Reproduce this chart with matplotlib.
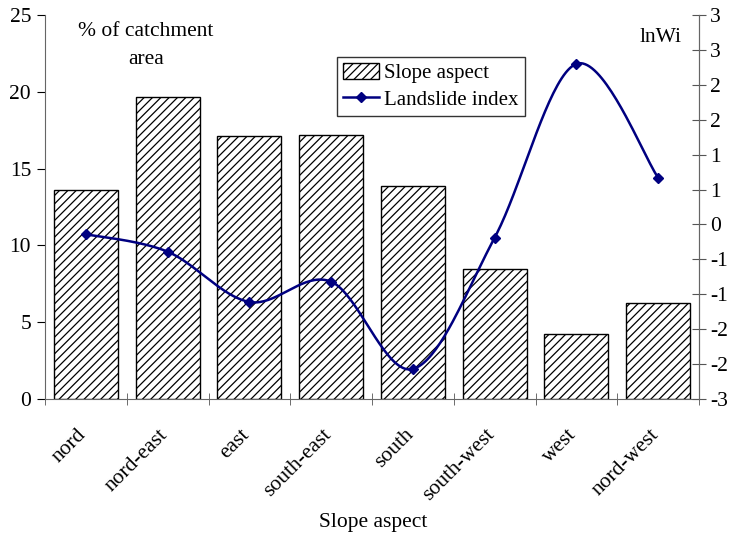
import numpy as np
import matplotlib
matplotlib.use("Agg")
import matplotlib.pyplot as plt
import matplotlib.transforms as mtransforms
from matplotlib.ticker import FixedLocator, FuncFormatter
from matplotlib.lines import Line2D
from matplotlib.patches import Patch

categories = ["nord", "nord-east", "east", "south-east", "south", "south-west", "west", "nord-west"]
area_pct = [13.6, 19.65, 17.1, 17.2, 13.85, 8.45, 4.25, 6.25]
lnwi = [-0.14, -0.39, -1.11, -0.82, -2.07, -0.19, 2.30, 0.67]

plt.rcParams['font.family'] = ['Liberation Serif', 'DejaVu Serif']
plt.rcParams['hatch.color'] = '#888888'
plt.rcParams['hatch.linewidth'] = 0.9

FS = 15.5

fig = plt.figure(figsize=(7.3, 5.4), dpi=100)
ax = fig.add_axes([45/730, 1-399/540, (699-45)/730, (399-15)/540])
x = np.arange(len(categories))
ax.bar(x, area_pct, width=0.78, color='white', edgecolor='black', linewidth=1.0,
       hatch='////', label='Slope aspect', zorder=2)
ax.set_xlim(-0.5, len(categories)-0.5)
ax.set_ylim(0, 25)
ax.set_yticks(np.arange(0, 26, 5))
ax.tick_params(axis='y', direction='out', length=6, labelsize=FS, colors='black', pad=4)
ax.set_xticks(x)
ax.set_xticklabels(categories, rotation=45, ha='right', va='top', rotation_mode='anchor', fontsize=FS)
ax.tick_params(axis='x', length=0, pad=19)
offset = mtransforms.ScaledTranslation(-9/100, 0, fig.dpi_scale_trans)
for lab in ax.get_xticklabels():
    lab.set_transform(lab.get_transform() + offset)
ax.xaxis.set_minor_locator(FixedLocator(np.arange(-0.5, len(categories), 1.0)))
ax.tick_params(axis='x', which='minor', direction='inout', length=9, color='#555555')
ax.spines['top'].set_visible(False)
for s in ['left', 'bottom', 'right']:
    ax.spines[s].set_color('#666666')

ax2 = ax.twinx()
ax2.set_ylim(-2.5, 3.0)
ax2.set_yticks(np.arange(-2.5, 3.01, 0.5))
def fmt(v, pos):
    r = int(np.sign(v) * np.floor(abs(v) + 0.5 + 1e-9))
    return f"{r}"
ax2.yaxis.set_major_formatter(FuncFormatter(fmt))
ax2.tick_params(axis='y', direction='inout', length=10, labelsize=FS, color='#555555', pad=3)
ax2.spines['top'].set_visible(False)
ax2.spines['right'].set_color('#666666')
ax2.spines['left'].set_visible(False)
ax2.spines['bottom'].set_visible(False)

# smoothed line (cardinal spline through the data points)
xs = np.array(x, dtype=float)
ys = np.array(lnwi, dtype=float)
px = np.concatenate([[xs[0]], xs, [xs[-1]]])
py = np.concatenate([[ys[0]], ys, [ys[-1]]])
sx, sy = [], []
for i in range(1, len(px)-2):
    p0 = np.array([px[i-1], py[i-1]]); p1 = np.array([px[i], py[i]])
    p2 = np.array([px[i+1], py[i+1]]); p3 = np.array([px[i+2], py[i+2]])
    t = np.linspace(0, 1, 40)[:, None]
    m1 = (p2 - p0) / 2
    m2 = (p3 - p1) / 2
    h00 = 2*t**3 - 3*t**2 + 1
    h10 = t**3 - 2*t**2 + t
    h01 = -2*t**3 + 3*t**2
    h11 = t**3 - t**2
    pts = h00*p1 + h10*m1 + h01*p2 + h11*m2
    sx.extend(pts[:, 0]); sy.extend(pts[:, 1])
ax2.plot(sx, sy, color='#000080', linewidth=1.8, zorder=3)
ax2.plot(xs, ys, linestyle='none', marker='D', markersize=5.5, color='#000080', zorder=4)

handles = [Patch(facecolor='white', edgecolor='black', hatch='////', label='Slope aspect'),
           Line2D([0], [0], color='#000080', marker='D', markersize=5.5, linewidth=1.8, label='Landslide index')]
leg = ax2.legend(handles=handles, loc='upper left', bbox_to_anchor=((337-45)/654, (399-57)/384),
                 fontsize=15, frameon=True, fancybox=False, edgecolor='black', borderpad=0.3,
                 handlelength=1.7, handleheight=0.8, handletextpad=0.25, labelspacing=0.3, borderaxespad=0)
leg.get_frame().set_linewidth(1.0)

fig.text(146/730, 1-32/540, "% of catchment", ha='center', va='center', fontsize=FS)
fig.text(146/730, 1-59/540, "area", ha='center', va='center', fontsize=FS)
fig.text(661/730, 1-37/540, "lnWi", ha='center', va='center', fontsize=FS)
fig.text(373/730, 1-523/540, "Slope aspect", ha='center', va='center', fontsize=FS)

fig.savefig("out.png", dpi=100)
